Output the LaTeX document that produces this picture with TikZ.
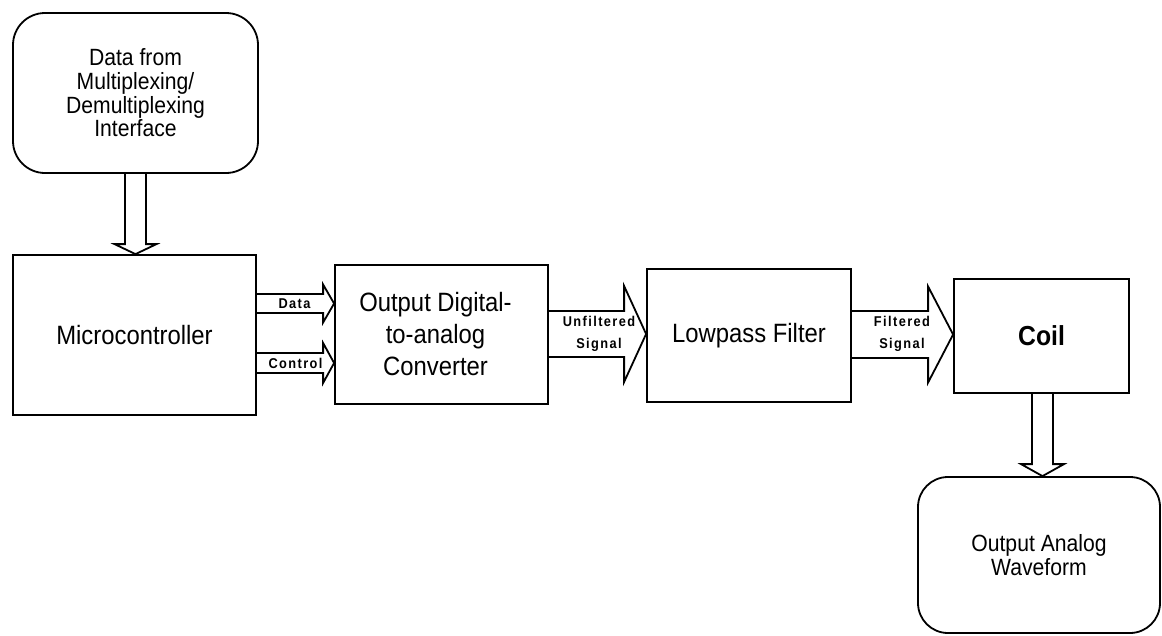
\documentclass[tikz,border=0pt]{standalone}
\usepackage{fontspec}
\setmainfont{Liberation Sans}[FakeStretch=0.9]
\newfontfamily\lblfont{Liberation Sans}[LetterSpace=10, FakeStretch=0.9]
\usetikzlibrary{calc}

% Horizontal block arrow: from #1.east to #2.west at height #3,
% half shaft width #4, half head width #5, head length #6
\newcommand\hblockarrow[6]{%
  \draw[blockarrow]
    ($(#1.east|-0,#3)+(0,#4)$) --
    ($(#2.west|-0,#3)+(-#6,#4)$) --
    ($(#2.west|-0,#3)+(-#6,#5)$) --
    (#2.west|-0,#3) --
    ($(#2.west|-0,#3)+(-#6,-#5)$) --
    ($(#2.west|-0,#3)+(-#6,-#4)$) --
    ($(#1.east|-0,#3)+(0,-#4)$);}

% Vertical block arrow: from #1.south to #2.north at x = #3
\newcommand\vblockarrow[6]{%
  \draw[blockarrow]
    ($(#1.south-|#3,0)+(-#4,0)$) --
    ($(#2.north-|#3,0)+(-#4,-#6)$) --
    ($(#2.north-|#3,0)+(-#5,-#6)$) --
    (#2.north-|#3,0) --
    ($(#2.north-|#3,0)+(#5,-#6)$) --
    ($(#2.north-|#3,0)+(#4,-#6)$) --
    ($(#1.south-|#3,0)+(#4,0)$);}

\begin{document}
\begin{tikzpicture}[x=1pt,y=-1pt,line width=1.8pt,
  box/.style={draw, inner sep=0pt, align=center},
  roundbox/.style={box, rounded corners=32pt},
  maintext/.style={font=\fontsize{26.5}{32}\selectfont},
  softtext/.style={font=\fontsize{23.5}{23.7}\selectfont},
  blockarrow/.style={draw, line join=miter},
  siglabel/.style={font=\lblfont\bfseries\fontsize{14.2}{22}\selectfont, align=center, inner sep=0pt}]
\useasboundingbox (0,0) rectangle (1162,635);

% blocks
\node[roundbox, softtext, minimum width=245pt, minimum height=160pt] (src) at (135.5,93)
  {Data from\\Multiplexing/\\Demultiplexing\\Interface};
\node[box, maintext, minimum width=243pt, minimum height=160pt] (mc) at (134.5,335)
  {Microcontroller};
\node[box, maintext, minimum width=213pt, minimum height=139pt] (dac) at (441.5,334.5)
  {\hspace*{-12pt}Output Digital-\\\hspace*{-12pt}to-analog\\\hspace*{-12pt}Converter};
\node[box, maintext, minimum width=204pt, minimum height=133pt] (lpf) at (749,335.5)
  {Lowpass Filter};
\node[box, font=\bfseries\fontsize{27.5}{30}\selectfont, minimum width=175pt, minimum height=114pt] (coil) at (1041.5,336)
  {Coil};
\node[roundbox, softtext, rounded corners=30pt, minimum width=242pt, minimum height=156pt] (out) at (1039,555)
  {Output Analog\\Waveform};

% connectors
\vblockarrow{src}{mc}{135.5}{10.5}{21}{10}
\hblockarrow{mc}{dac}{303.5}{9.5}{19}{11}
\hblockarrow{mc}{dac}{363}{10}{20}{11}
\hblockarrow{dac}{lpf}{334}{23}{48}{22}
\hblockarrow{lpf}{coil}{334.5}{23.5}{48}{25}
\vblockarrow{coil}{out}{1042.5}{10.5}{21.5}{12}

% connector labels
\node[siglabel] (lbldata) at (294.5,303.5) {Data};
\node[siglabel] (lblctrl) at (295.5,363) {Control};
\node[siglabel] (lblunf) at (599,334) {Unfiltered\\Signal};
\node[siglabel] (lblfil) at (902,334) {Filtered\\Signal};
\end{tikzpicture}
\end{document}
